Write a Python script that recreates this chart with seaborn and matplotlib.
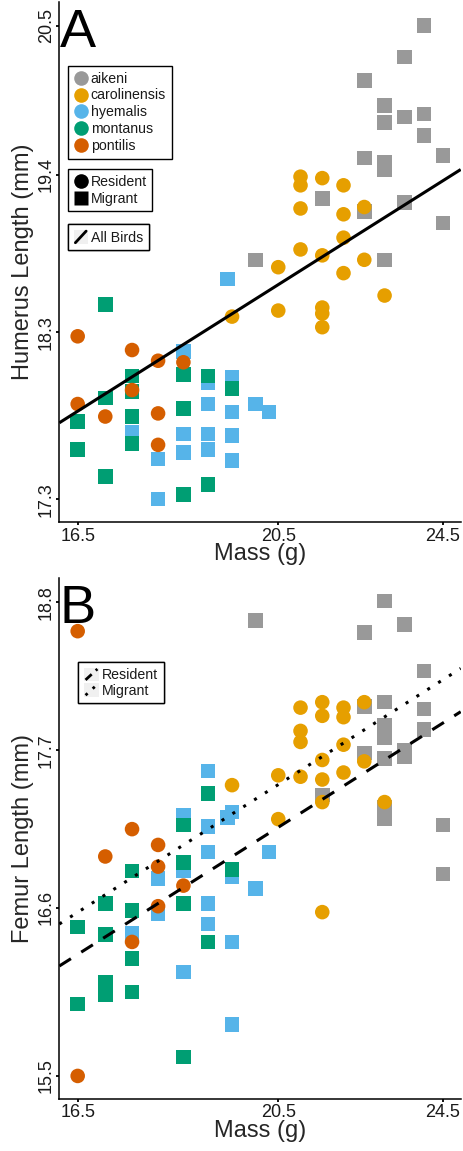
import numpy as np
import pandas as pd
import matplotlib
matplotlib.use("Agg")
import matplotlib.pyplot as plt
import seaborn as sns
from matplotlib.lines import Line2D
from matplotlib.patches import Rectangle
from matplotlib.legend_handler import HandlerBase
from matplotlib.ticker import NullLocator

# subspecies and colours
subspecies = ["aikeni", "carolinensis", "hyemalis", "montanus", "pontilis"]
status_of = {"aikeni": "Migrant", "carolinensis": "Resident", "hyemalis": "Migrant",
             "montanus": "Migrant", "pontilis": "Resident"}
colors = ["#999999", "#E69F00", "#56B4E9", "#009E73", "#D55E00"]

# ---- panel A : humerus ----
aikeni_mass_a = [24.0, 23.5, 22.5, 23.0, 23.0, 23.5, 24.0, 24.0, 24.5, 22.5, 23.0, 23.0,
                 21.5, 22.5, 23.5, 24.5, 20.0, 23.0]
aikeni_humerus = [20.50, 20.27, 20.10, 19.92, 19.80, 19.84, 19.86, 19.71, 19.57, 19.55, 19.52, 19.47,
                  19.27, 19.18, 19.24, 19.10, 18.85, 18.85]
carol_mass_a = [21.0, 21.0, 21.5, 22.0, 21.0, 22.5, 22.0, 22.0, 21.0, 21.5, 22.5, 20.5,
                22.0, 23.0, 20.5, 21.5, 21.5, 21.5, 19.5]
carol_humerus = [19.42, 19.36, 19.41, 19.36, 19.20, 19.21, 19.16, 19.00, 18.92, 18.88, 18.85, 18.80,
                 18.76, 18.61, 18.51, 18.53, 18.49, 18.40, 18.47]
hyem_mass_a = [19.4, 18.5, 19.0, 19.5, 19.0, 19.5, 20.0, 20.3, 17.5, 18.5, 19.0, 19.5,
               18.0, 18.5, 19.0, 19.5, 18.0]
hyem_humerus = [18.72, 18.24, 18.04, 18.07, 17.90, 17.85, 17.90, 17.85, 17.72, 17.71, 17.71, 17.70,
                17.55, 17.59, 17.61, 17.54, 17.30]
mont_mass_a = [17.0, 17.5, 17.5, 17.0, 16.5, 17.5, 18.5, 19.0, 19.5, 18.5, 17.5, 16.5,
               17.0, 19.0, 18.5]
mont_humerus = [18.55, 18.08, 17.98, 17.94, 17.79, 17.82, 18.09, 18.08, 18.00, 17.87, 17.65, 17.61,
                17.44, 17.39, 17.33]
pont_mass_a = [16.5, 17.5, 18.0, 18.5, 17.5, 16.5, 17.0, 18.0, 18.0]
pont_humerus = [18.34, 18.25, 18.18, 18.17, 17.99, 17.90, 17.82, 17.84, 17.64]

# ---- panel B : femur ----
aikeni_mass_b = [23.0, 20.0, 22.5, 23.5, 24.0, 23.0, 22.5, 24.0, 23.0, 23.0, 24.0, 22.5,
                 23.5, 23.5, 23.0, 21.5, 23.0, 23.0, 24.5, 24.5]
aikeni_femur = [18.81, 18.66, 18.57, 18.63, 18.28, 18.05, 18.02, 18.00, 17.88, 17.79, 17.85, 17.68,
                17.70, 17.65, 17.64, 17.38, 17.29, 17.21, 17.17, 16.83]
carol_mass_b = [21.0, 21.5, 21.5, 22.0, 22.0, 22.5, 21.0, 21.0, 22.0, 21.5, 22.5, 20.5,
                21.0, 21.5, 22.0, 19.5, 21.5, 23.0, 20.5, 21.5]
carol_femur = [18.01, 18.05, 17.95, 18.01, 17.94, 18.05, 17.84, 17.76, 17.74, 17.63, 17.62, 17.52,
               17.51, 17.49, 17.54, 17.45, 17.33, 17.33, 17.21, 16.57]
hyem_mass_b = [19.0, 18.5, 19.0, 19.5, 19.4, 19.0, 20.3, 18.5, 18.0, 19.5, 20.0, 19.0,
               18.0, 19.0, 17.5, 19.5, 18.5, 19.5]
hyem_femur = [17.55, 17.24, 17.16, 17.26, 17.22, 16.98, 16.98, 16.85, 16.80, 16.81, 16.73, 16.63,
              16.56, 16.49, 16.43, 16.37, 16.17, 15.83]
mont_mass_b = [19.0, 18.5, 18.5, 17.5, 19.5, 17.0, 18.5, 17.5, 16.5, 17.0, 19.0, 17.5,
               17.0, 17.0, 17.5, 16.5, 18.5]
mont_femur = [17.39, 17.17, 16.91, 16.85, 16.86, 16.63, 16.63, 16.58, 16.47, 16.42, 16.37, 16.26,
              16.10, 16.02, 16.04, 15.96, 15.62]
pont_mass_b = [16.5, 17.5, 18.0, 17.0, 18.0, 18.5, 18.0, 17.5, 16.5]
pont_femur = [18.58, 17.14, 17.03, 16.95, 16.88, 16.75, 16.61, 16.37, 15.50]

# fitted lines (ends at the panel edges)
fit_mass = [16.175, 24.975]
allbirds_humerus = [17.78, 19.47]
resident_femur = [16.21, 17.98]
migrant_femur = [16.49, 18.30]

# axes
mass_ticks = [16.5, 20.5, 24.5]
mass_labels = ["16.5", "20.5", "24.5"]
humerus_ticks = [17.3, 18.367, 19.433, 20.5]
humerus_labels = ["17.3", "18.3", "19.4", "20.5"]
femur_ticks = [15.5, 16.6, 17.7, 18.8]
femur_labels = ["15.5", "16.6", "17.7", "18.8"]
mass_lim = (16.175, 24.975)
humerus_lim = (17.157, 20.675)
femur_lim = (15.355, 18.987)


def make_df(groups, col):
    rows = []
    for sp, (m, v) in zip(subspecies, groups):
        for a, b in zip(m, v):
            rows.append({"subspecies": sp, "status": status_of[sp], "mass": a, col: b})
    return pd.DataFrame(rows)


dfA = make_df([(aikeni_mass_a, aikeni_humerus), (carol_mass_a, carol_humerus),
               (hyem_mass_a, hyem_humerus), (mont_mass_a, mont_humerus),
               (pont_mass_a, pont_humerus)], "humerus")
dfB = make_df([(aikeni_mass_b, aikeni_femur), (carol_mass_b, carol_femur),
               (hyem_mass_b, hyem_femur), (mont_mass_b, mont_femur),
               (pont_mass_b, pont_femur)], "femur")

sns.set_theme(style="white")
plt.rcParams["font.family"] = ["Liberation Sans", "DejaVu Sans"]

W, H = 464, 1151
fig = plt.figure(figsize=(W / 100, H / 100), dpi=100)
axA = fig.add_axes([59.3 / W, 1 - 522.3 / H, 401.4 / W, 520.3 / H])
axB = fig.add_axes([59.3 / W, 1 - 1099 / H, 401.4 / W, 521 / H])

pal = dict(zip(subspecies, colors))
shapes = {"Resident": "o", "Migrant": "s"}


class DiagKey(HandlerBase):
    def __init__(self, ls):
        super().__init__()
        self.ls = ls

    def create_artists(self, legend, orig_handle, xdescent, ydescent, width, height, fontsize, trans):
        bg = Rectangle((-xdescent, -ydescent), width, height, facecolor="#f0f0f0",
                       edgecolor="none", transform=trans)
        ln = Line2D([-xdescent + 0.12 * width, -xdescent + 0.88 * width],
                    [-ydescent + 0.1 * height, -ydescent + 0.9 * height],
                    color="black", lw=2.0, linestyle=self.ls, transform=trans)
        return [bg, ln]


def style_axes(ax, ylab, yticks, ylabels, ylim):
    ax.set_xscale("log")
    ax.set_yscale("log")
    ax.set_xlim(*mass_lim)
    ax.set_ylim(*ylim)
    ax.xaxis.set_minor_locator(NullLocator())
    ax.yaxis.set_minor_locator(NullLocator())
    ax.set_xticks(mass_ticks, mass_labels)
    ax.set_yticks(yticks, ylabels)
    ax.tick_params(axis="both", direction="out", length=2.2, width=1.3, color="black",
                   labelsize=13, labelcolor="#1a1a1a", bottom=True, left=True)
    ax.tick_params(axis="x", pad=1.6)
    ax.tick_params(axis="y", pad=1.0)
    for lbl in ax.get_yticklabels():
        lbl.set_rotation(90)
        lbl.set_va("center")
    for s in ["top", "right"]:
        ax.spines[s].set_visible(False)
    for s in ["left", "bottom"]:
        ax.spines[s].set_color("black")
        ax.spines[s].set_linewidth(1.1)
    ax.set_xlabel("Mass (g)", fontsize=17, labelpad=-1)
    ax.set_ylabel(ylab, fontsize=17, labelpad=3)
    ax.set_facecolor("white")


def add_legend(ax, handles, labels, x, y, **kw):
    leg = ax.legend(handles, labels, loc="upper left", bbox_to_anchor=(x / W, 1 - y / H),
                    bbox_transform=fig.transFigure, borderaxespad=0, fontsize=10.2,
                    frameon=True, fancybox=False, framealpha=1, borderpad=0.4,
                    handletextpad=0.2, labelcolor="#1a1a1a", **kw)
    leg.get_frame().set_edgecolor("black")
    leg.get_frame().set_linewidth(1.0)
    ax.add_artist(leg)
    return leg


# ---- panel A ----
sns.scatterplot(data=dfA, x="mass", y="humerus", hue="subspecies", style="status",
                markers=shapes, palette=pal, s=110, linewidth=0, legend=False, ax=axA)
axA.plot(fit_mass, allbirds_humerus, color="black", lw=2.2, solid_capstyle="butt")
style_axes(axA, "Humerus Length (mm)", humerus_ticks, humerus_labels, humerus_lim)

sp_handles = [Line2D([], [], ls="", marker="o", markersize=10.5, color=c, mec="none") for c in colors]
add_legend(axA, sp_handles, subspecies, 68, 66, handlelength=1.0, labelspacing=0.2)
st_handles = [Line2D([], [], ls="", marker=m, markersize=10.5, color="black", mec="none")
              for m in ["o", "s"]]
add_legend(axA, st_handles, ["Resident", "Migrant"], 68, 169, handlelength=1.0, labelspacing=0.2)
all_h = Line2D([], [], color="black")
add_legend(axA, [all_h], ["All Birds"], 68, 224, handlelength=1.0, handleheight=1.2,
           handler_map={all_h: DiagKey("-")})

# ---- panel B ----
sns.scatterplot(data=dfB, x="mass", y="femur", hue="subspecies", style="status",
                markers=shapes, palette=pal, s=110, linewidth=0, legend=False, ax=axB)
axB.plot(fit_mass, resident_femur, color="black", lw=2.2, dashes=(4.5, 4))
axB.plot(fit_mass, migrant_femur, color="black", lw=2.2, dashes=(1, 3.2))
style_axes(axB, "Femur Length (mm)", femur_ticks, femur_labels, femur_lim)

res_h = Line2D([], [], color="black")
mig_h = Line2D([], [], color="black")
add_legend(axB, [res_h, mig_h], ["Resident", "Migrant"], 78, 662, handlelength=1.1,
           handleheight=1.1, labelspacing=0.05,
           handler_map={res_h: DiagKey((0, (3, 2))), mig_h: DiagKey((0, (1, 2.5)))})

# panel letters
fig.text(60 / W, 1 - 46.7 / H, "A", fontsize=39, color="black", va="baseline", ha="left")
fig.text(60 / W, 1 - 623 / H, "B", fontsize=39, color="black", va="baseline", ha="left")

fig.savefig("out.png", dpi=100)
